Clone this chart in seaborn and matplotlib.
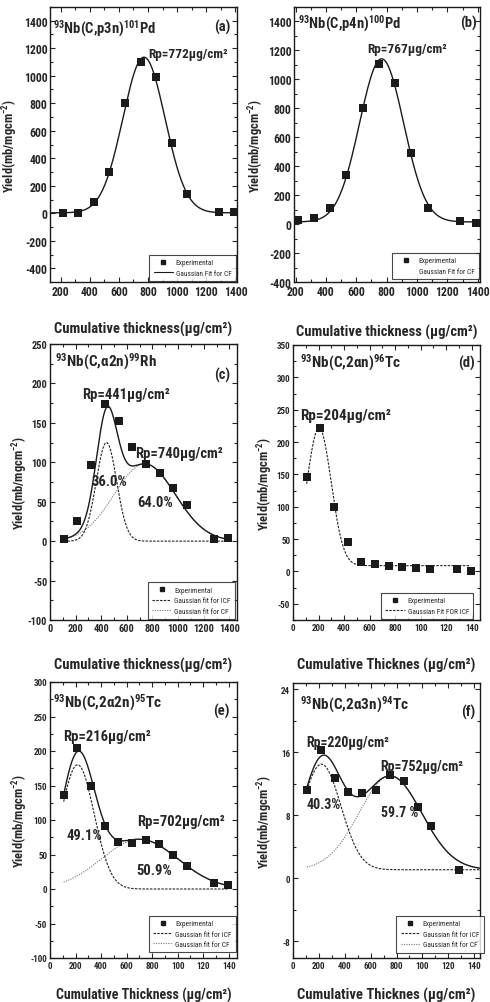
import numpy as np
import matplotlib
matplotlib.use('Agg')
import matplotlib.pyplot as plt
import seaborn as sns
from matplotlib.lines import Line2D
from matplotlib.ticker import MultipleLocator, FixedLocator, FixedFormatter, FuncFormatter

# ---------------- data ----------------
thickness = [107, 214, 321, 428, 535, 642, 749, 856, 963, 1070, 1284, 1391]

yield_a = [5, 5, 84, 300, 803, 1098, 988, 509, 143, 12, 7]
yield_b = [30, 39, 111, 337, 801, 1107, 976, 491, 111, 23, 5]
yield_c = [3, 26, 96, 174, 152, 120, 98, 87, 68, 46, 3, 4]
yield_d = [146, 222, 100, 45, 15, 12, 8, 7, 5, 3.6, 3.6, 1.5]
yield_e = [136, 204, 150, 91, 68, 66, 71, 65, 50, 34, 8, 6]
yield_f = [11.2, 16.3, 12.7, 11.0, 10.9, 11.2, 13.1, 12.3, 9.1, 6.6, 1.1]

# Gaussian fit parameters: (centre, amplitude, sigma)
fit_a_cf = (772, 1132, 145)
base_a = 3
fit_b_cf = (767, 1127, 145)
base_b = 15
fit_c_icf = (441, 125, 80)
fit_c_cf = (740, 98, 238)
fit_d_icf = (204, 213, 95)
base_d = 9
fit_e_icf = (216, 180, 130)
fit_e_cf = (702, 72, 300)
fit_f_icf = (220, 13.4, 150)
fit_f_cf = (752, 11.9, 242)
base_f = 1.1

reactions = [r'$^{93}$Nb(C,p3n)$^{101}$Pd', r'$^{93}$Nb(C,p4n)$^{100}$Pd',
             r'$^{93}$Nb(C,α2n)$^{99}$Rh', r'$^{93}$Nb(C,2αn)$^{96}$Tc',
             r'$^{93}$Nb(C,2α2n)$^{95}$Tc', r'$^{93}$Nb(C,2α3n)$^{94}$Tc']
panel_letters = ['(a)', '(b)', '(c)', '(d)', '(e)', '(f)']
xlabels = ['Cumulative thickness(µg/cm²)', 'Cumulative thickness (µg/cm²)',
           'Cumulative thickness(µg/cm²)', 'Cumulative Thicknes (µg/cm²)',
           'Cumulative Thickness (µg/cm²)', 'Cumulative Thicknes (µg/cm²)']
ylabel = 'Yield(mb/mgcm$^{-2}$)'
rp_labels = ['Rp=772µg/cm²', 'Rp=767µg/cm²', 'Rp=441µg/cm²', 'Rp=740µg/cm²',
             'Rp=204µg/cm²', 'Rp=216µg/cm²', 'Rp=702µg/cm²', 'Rp=220µg/cm²', 'Rp=752µg/cm²']
pct_labels = ['36.0%', '64.0%', '49.1%', '50.9%', '40.3%', '59.7 %']
xt_ab = ['200', '400', '600', '800', '1000', '1200', '1400']
xt_c = ['0', '200', '400', '600', '800', '1000', '1200', '1400']
xt_def = ['0', '200', '400', '600', '800', '100', '120', '140']

# ---------------- style ----------------
sns.set_theme(style='ticks')
FONT = ['Roboto Condensed', 'DejaVu Sans']
plt.rcParams['font.family'] = FONT
plt.rcParams['font.weight'] = 'bold'
plt.rcParams['mathtext.fontset'] = 'custom'
plt.rcParams['mathtext.rm'] = 'Roboto Condensed:bold'
plt.rcParams['mathtext.it'] = 'Roboto Condensed:bold'
plt.rcParams['mathtext.bf'] = 'Roboto Condensed:bold'
plt.rcParams['mathtext.sf'] = 'Roboto Condensed:bold'
plt.rcParams['axes.linewidth'] = 1.0

W, H = 490, 1003
fig = plt.figure(figsize=(W / 100, H / 100), dpi=100)


def px_axes(l, t, r, b):
    return fig.add_axes([l / W, 1 - b / H, (r - l) / W, (b - t) / H])


axs = [px_axes(50, 8, 237, 283), px_axes(294, 8, 480, 283),
       px_axes(50, 345, 237, 621), px_axes(293, 346, 480, 621),
       px_axes(50, 683, 237, 959), px_axes(293, 684, 480, 959)]


def gauss(x, p):
    c, a, s = p
    return a * np.exp(-(x - c) ** 2 / (2 * s ** 2))


ICF_LS = (0, (2.2, 1.2))
CF_LS = (0, (1.0, 1.2))
ICF_C = '#222222'
CF_C = '#777777'


def scatter(ax, xs, ys):
    sns.scatterplot(x=xs, y=ys, ax=ax, marker='s', color='k', s=30,
                    edgecolor='k', linewidth=0, zorder=5, legend=False)


def line(ax, xs, ys, **kw):
    sns.lineplot(x=xs, y=ys, ax=ax, estimator=None, sort=False, legend=False, **kw)


def style_axes(ax, xlim, ylim, xticks, xtl, ymaj, ymin, xmin, tsize):
    ax.set_xlim(*xlim)
    ax.set_ylim(*ylim)
    ax.xaxis.set_major_locator(FixedLocator(xticks))
    ax.xaxis.set_major_formatter(FixedFormatter(xtl))
    ax.xaxis.set_minor_locator(MultipleLocator(xmin))
    ax.yaxis.set_major_locator(MultipleLocator(ymaj))
    ax.yaxis.set_minor_locator(MultipleLocator(ymin))
    ax.yaxis.set_major_formatter(FuncFormatter(lambda v, p: f'{v:g}'))
    ax.tick_params(which='both', direction='in', top=True, right=True,
                   labelsize=tsize, width=0.8, pad=2)
    ax.tick_params(which='major', length=3.5)
    ax.tick_params(which='minor', length=2)
    for s in ax.spines.values():
        s.set_visible(True)
        s.set_color('k')


def add_legend(ax, handles, labels, anchor):
    leg = ax.legend(handles, labels, loc='lower right', bbox_to_anchor=anchor,
                    fontsize=5.3, frameon=True, fancybox=False, edgecolor='k',
                    handlelength=2.6, handletextpad=0.4, borderpad=0.6,
                    labelspacing=0.45, borderaxespad=0)
    leg.get_frame().set_linewidth(0.8)
    for t in leg.get_texts():
        t.set_fontweight('normal')


exp_handle = Line2D([], [], marker='s', color='k', ls='none', markersize=3.5)

xs = np.array(thickness, dtype=float)

# ---- (a)
ax = axs[0]
xg = np.linspace(127, 1411, 400)
line(ax, xg, base_a + gauss(xg, fit_a_cf), color='k', lw=1.0)
scatter(ax, xs[1:], yield_a)
style_axes(ax, (127, 1411), (-500, 1500), [200, 400, 600, 800, 1000, 1200, 1400],
           xt_ab, 200, 100, 100, 8.5)
ax.text(800, 1160, rp_labels[0], fontsize=9.5, va='center', ha='left')
add_legend(ax, [exp_handle, Line2D([], [], color='k', lw=0.8)],
           ['Experimental', 'Gaussian Fit for CF'], (0.995, 0.003))

# ---- (b)
ax = axs[1]
xg = np.linspace(190, 1415, 400)
line(ax, xg, base_b + gauss(xg, fit_b_cf), color='k', lw=1.0)
scatter(ax, xs[1:], yield_b)
style_axes(ax, (190, 1415), (-400, 1500), [200, 400, 600, 800, 1000, 1200, 1400],
           xt_ab, 200, 100, 100, 8.5)
ax.text(675, 1210, rp_labels[1], fontsize=9.5, va='center', ha='left')
add_legend(ax, [exp_handle, Line2D([], [], ls='none')],
           ['Experimental', 'Gaussian Fit for CF'], (0.995, 0.01))

# ---- (c)
ax = axs[2]
xg = np.linspace(thickness[0], thickness[-1], 400)
icf = gauss(xg, fit_c_icf)
cf = gauss(xg, fit_c_cf)
line(ax, xg, icf, color=ICF_C, lw=0.8, linestyle=ICF_LS)
line(ax, xg, cf, color=CF_C, lw=0.8, linestyle=CF_LS)
line(ax, xg, icf + cf, color='k', lw=1.0)
scatter(ax, xs, yield_c)
style_axes(ax, (0, 1460), (-100, 250), [0, 200, 400, 600, 800, 1000, 1200, 1400],
           xt_c, 50, 25, 100, 7.5)
ax.text(249, 187, rp_labels[2], fontsize=10.5, va='center')
ax.text(667, 112, rp_labels[3], fontsize=10.5, va='center')
ax.text(327, 76, pct_labels[0], fontsize=10.5, va='center')
ax.text(680, 50, pct_labels[1], fontsize=10.5, va='center')
add_legend(ax, [exp_handle, Line2D([], [], color=ICF_C, lw=0.8, ls=ICF_LS),
                Line2D([], [], color=CF_C, lw=0.8, ls=CF_LS)],
           ['Experimental', 'Gaussian fit for ICF', 'Gaussian fit for CF'], (0.99, 0.003))

# ---- (d)
ax = axs[3]
xg = np.linspace(thickness[0], thickness[-1], 400)
line(ax, xg, base_d + gauss(xg, fit_d_icf), color=ICF_C, lw=0.8, linestyle=ICF_LS)
scatter(ax, xs, yield_d)
style_axes(ax, (0, 1465), (-75, 350), [0, 200, 400, 600, 800, 1000, 1200, 1400],
           xt_def, 50, 25, 100, 6.5)
ax.text(52, 242, rp_labels[4], fontsize=11, va='center')
add_legend(ax, [exp_handle, Line2D([], [], color=ICF_C, lw=0.8, ls=ICF_LS)],
           ['Experimental', 'Gaussian Fit FOR ICF'], (0.965, 0.003))

# ---- (e)
ax = axs[4]
xg = np.linspace(thickness[0], thickness[-1], 400)
icf = gauss(xg, fit_e_icf)
cf = gauss(xg, fit_e_cf)
line(ax, xg, icf, color=ICF_C, lw=0.8, linestyle=ICF_LS)
line(ax, xg, cf, color=CF_C, lw=0.8, linestyle=CF_LS)
line(ax, xg, icf + cf, color='k', lw=1.0)
scatter(ax, xs, yield_e)
style_axes(ax, (0, 1465), (-100, 300), [0, 200, 400, 600, 800, 1000, 1200, 1400],
           xt_def, 50, 25, 100, 6.5)
ax.text(105, 222, rp_labels[5], fontsize=10.5, va='center')
ax.text(680, 98, rp_labels[6], fontsize=10.5, va='center')
ax.text(131, 78, pct_labels[2], fontsize=10.5, va='center')
ax.text(675, 28, pct_labels[3], fontsize=10.5, va='center')
add_legend(ax, [exp_handle, Line2D([], [], color=ICF_C, lw=0.8, ls=ICF_LS),
                Line2D([], [], color=CF_C, lw=0.8, ls=CF_LS)],
           ['Experimental', 'Gaussian fit for ICF', 'Gaussian fit for CF'], (0.995, 0.02))

# ---- (f)
ax = axs[5]
xg = np.linspace(thickness[0], 1445, 400)
icf = gauss(xg, fit_f_icf)
cf = gauss(xg, fit_f_cf)
line(ax, xg, base_f + icf, color=ICF_C, lw=0.8, linestyle=ICF_LS)
line(ax, xg, base_f + cf, color=CF_C, lw=0.8, linestyle=CF_LS)
line(ax, xg, base_f + icf + cf, color='k', lw=1.0)
scatter(ax, xs[:11], yield_f)
style_axes(ax, (0, 1445), (-10.1, 24.8), [0, 200, 400, 600, 800, 1000, 1200, 1400],
           xt_def, 8, 4, 100, 6.5)
ax.text(103, 17.3, rp_labels[7], fontsize=10, va='center')
ax.text(678, 14.3, rp_labels[8], fontsize=10, va='center')
ax.text(103, 9.4, pct_labels[4], fontsize=10, va='center')
ax.text(683, 8.4, pct_labels[5], fontsize=10, va='center')
add_legend(ax, [exp_handle, Line2D([], [], color=ICF_C, lw=0.8, ls=ICF_LS),
                Line2D([], [], color=CF_C, lw=0.8, ls=CF_LS)],
           ['Experimental', 'Gaussian fit for ICF', 'Gaussian fit for CF'], (1.02, 0.02))

# ---- common text
react_pos = [(0.016, 0.925), (0.02, 0.943), (0.027, 0.94), (0.037, 0.938),
             (0.018, 0.928), (0.037, 0.924)]
letter_pos = [(0.963, 0.928), (0.984, 0.943), (0.963, 0.891), (0.973, 0.938),
              (0.963, 0.896), (0.973, 0.895)]
ylab_x = [-0.16, -0.15, -0.107, -0.096, -0.107, -0.096]
xlab_y = [-0.142, -0.153, -0.134, -0.134, -0.105, -0.105]
react_fs = [10.5, 10.5, 11, 11, 11, 11]
for i, ax in enumerate(axs):
    ax.text(*react_pos[i], reactions[i], transform=ax.transAxes, fontsize=react_fs[i],
            va='center', ha='left')
    ax.text(*letter_pos[i], panel_letters[i], transform=ax.transAxes, fontsize=10.5,
            va='center', ha='right')
    ax.set_xlabel(xlabels[i], fontsize=10.5 if i != 4 else 10, fontweight='bold')
    ax.set_ylabel(ylabel, fontsize=9, fontweight='bold')
    ax.xaxis.set_label_coords(0.5, xlab_y[i])
    ax.yaxis.set_label_coords(ylab_x[i], 0.5)

fig.savefig('out.png', dpi=100)
